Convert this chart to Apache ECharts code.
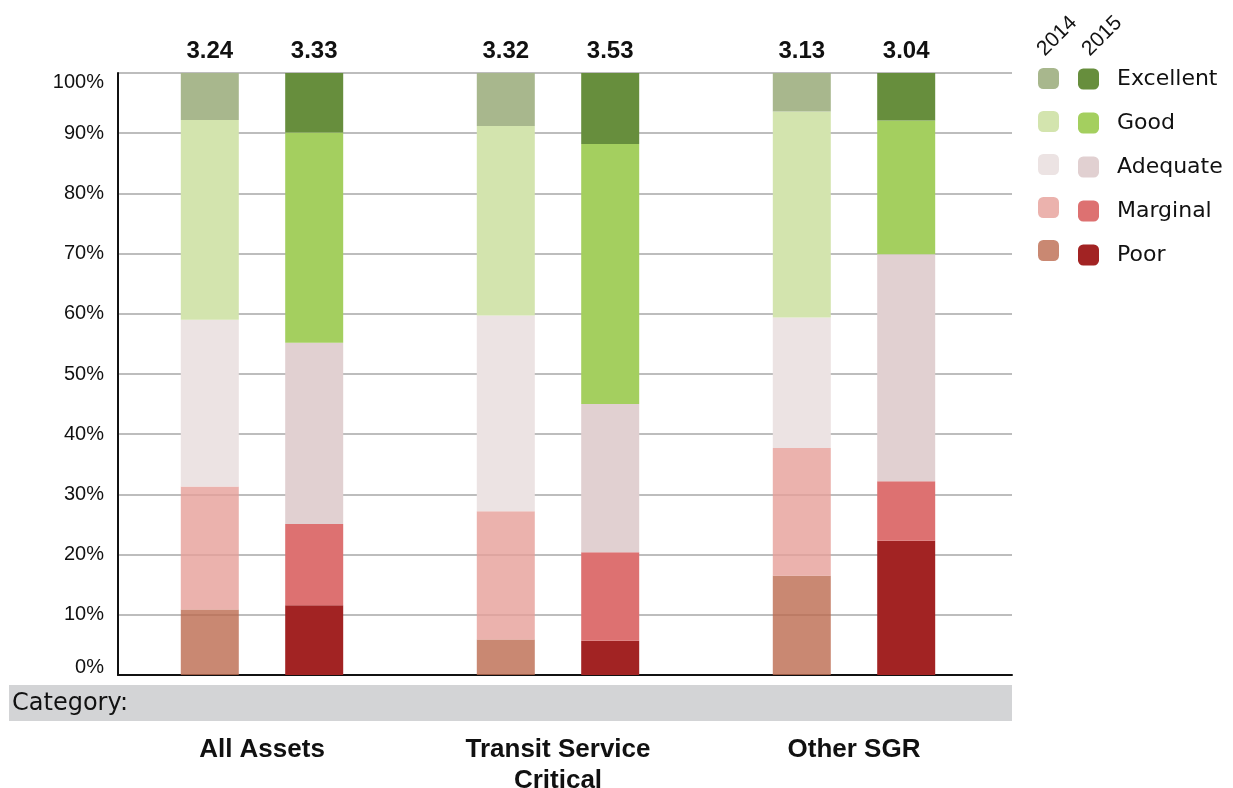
<!DOCTYPE html>
<html>
<head>
<meta charset="utf-8">
<title>Asset condition by category, 2014 vs 2015</title>
<script src="https://cdn.jsdelivr.net/npm/echarts@6/dist/echarts.min.js"></script>
<style>
  html, body { margin: 0; padding: 0; background: #ffffff; }
  #chart { width: 1233px; height: 788px; }
</style>
</head>
<body>
<div id="chart"></div>
<script>
// Asset categories (x axis)
const categories = ['All Assets', 'Transit Service\nCritical', 'Other SGR'];

// Condition ratings, bottom to top of each stack
const ratings = ['Poor', 'Marginal', 'Adequate', 'Good', 'Excellent'];

// Share of assets (%) per rating, one value per category
const poor2014      = [10.9, 5.9, 16.5];
const marginal2014  = [20.4, 21.3, 21.2];
const adequate2014  = [27.7, 32.5, 21.7];
const good2014      = [33.2, 31.5, 34.2];
const excellent2014 = [7.8, 8.8, 6.4];

const poor2015      = [11.6, 5.7, 22.3];
const marginal2015  = [13.5, 14.7, 9.9];
const adequate2015  = [30.1, 24.6, 37.7];
const good2015      = [34.9, 43.2, 22.2];
const excellent2015 = [9.9, 11.8, 7.9];

// Average condition score shown above each bar
const scores2014 = ['3.24', '3.32', '3.13'];
const scores2015 = ['3.33', '3.53', '3.04'];

// Y axis tick values (percent)
const yTicks = [0, 10, 20, 30, 40, 50, 60, 70, 80, 90, 100];

const years = ['2014', '2015'];

const values = {
  '2014': [poor2014, marginal2014, adequate2014, good2014, excellent2014],
  '2015': [poor2015, marginal2015, adequate2015, good2015, excellent2015]
};
const scores = { '2014': scores2014, '2015': scores2015 };

const colors = {
  '2014': ['#c98872', '#ebb2ad', '#ece3e3', '#d3e4ae', '#a8b78d'],
  '2015': ['#a22323', '#dd7171', '#e1d0d1', '#a4cf5f', '#678e3d']
};
// lower 2014 segments are slightly translucent so grid lines show through
const opacity2014 = [0.8, 0.8, 1, 1, 1];

function solidFor(hex, alpha) {
  if (alpha >= 1) return hex;
  const n = parseInt(hex.slice(1), 16);
  const ch = [(n >> 16) & 255, (n >> 8) & 255, n & 255]
    .map(c => Math.max(0, Math.min(255, Math.round((c - (1 - alpha) * 255) / alpha))));
  return 'rgb(' + ch.join(',') + ')';
}

const LABEL_FONT = '"Liberation Sans", Arial, sans-serif';
const WIDE_FONT = '"DejaVu Sans", "Liberation Sans", sans-serif';

const series = [];
years.forEach(year => {
  ratings.forEach((rating, i) => {
    const isTop = i === ratings.length - 1;
    const alpha = year === '2014' ? opacity2014[i] : 1;
    series.push({
      name: rating + ' ' + year,
      type: 'bar',
      stack: 'y' + year,
      xAxisIndex: 1,
      yAxisIndex: 1,
      barWidth: 58,
      barGap: '80%',
      data: values[year][i],
      itemStyle: { color: solidFor(colors[year][i], alpha), opacity: alpha },
      emphasis: { disabled: true },
      label: isTop ? {
        show: true,
        position: 'top',
        distance: 10,
        formatter: p => scores[year][p.dataIndex],
        fontFamily: LABEL_FONT,
        fontSize: 24,
        fontWeight: 'bold',
        color: '#111'
      } : { show: false }
    });
  });
});

const chart = echarts.init(document.getElementById('chart'), null, { renderer: 'canvas' });

chart.setOption({
  animation: false,
  backgroundColor: '#ffffff',
  grid: [
    // frame: y axis, grid lines, baseline
    { left: 118, right: 221, top: 73, bottom: 113, outerBoundsMode: 'none', containLabel: false },
    // bars and category labels
    { left: 114, right: 231, top: 73, bottom: 113, outerBoundsMode: 'none', containLabel: false }
  ],
  xAxis: [
    {
      gridIndex: 0, type: 'value', min: 0, max: 1,
      axisLine: { show: true, lineStyle: { color: '#111', width: 2 } },
      axisTick: { show: false }, axisLabel: { show: false }, splitLine: { show: false }
    },
    {
      gridIndex: 1, type: 'category', data: categories,
      axisLine: { show: false }, axisTick: { show: false }, splitLine: { show: false },
      axisLabel: {
        margin: 59,
        interval: 0,
        fontFamily: LABEL_FONT,
        fontSize: 26,
        fontWeight: 'bold',
        lineHeight: 31,
        color: '#111'
      }
    }
  ],
  yAxis: [
    {
      gridIndex: 0, type: 'value', min: 0, max: 100, interval: 10,
      axisLine: { show: true, lineStyle: { color: '#111', width: 2 } },
      axisTick: { show: false },
      splitLine: { show: true, lineStyle: { color: '#bdbdbd', width: 2 } },
      axisLabel: {
        margin: 14,
        fontFamily: LABEL_FONT,
        fontSize: 20,
        color: '#111',
        customValues: yTicks,
        formatter: v => v === 100 ? '{top|100%}' : (v === 0 ? '{bot|0%}' : v + '%'),
        rich: {
          top: { fontFamily: LABEL_FONT, fontSize: 20, color: '#111', padding: [19, 0, 0, 0] },
          bot: { fontFamily: LABEL_FONT, fontSize: 20, color: '#111', padding: [0, 0, 16, 0] }
        }
      }
    },
    {
      gridIndex: 1, type: 'value', min: 0, max: 100, interval: 10, show: false,
      splitLine: { show: false }
    }
  ],
  legend: [
    {
      data: ratings.slice().reverse().map(r => r + ' 2014'),
      orient: 'vertical', left: 1033, top: 63,
      icon: 'roundRect', itemWidth: 21, itemHeight: 21, itemGap: 22,
      selectedMode: false,
      formatter: () => '',
      textStyle: { fontSize: 1, lineHeight: 21 }
    },
    {
      data: ratings.slice().reverse().map(r => r + ' 2015'),
      orient: 'vertical', left: 1073, top: 63,
      icon: 'roundRect', itemWidth: 21, itemHeight: 21, itemGap: 22,
      selectedMode: false,
      formatter: name => name.replace(/ \d{4}$/, ''),
      textStyle: {
        fontFamily: WIDE_FONT, fontSize: 22, lineHeight: 21, color: '#111',
        padding: [0, 0, 0, 13]
      }
    }
  ],
  graphic: [
    // year headings over the two legend columns
    {
      type: 'text', x: 1048, y: 60, rotation: Math.PI / 4,
      style: { text: years[0], fontFamily: LABEL_FONT, fontSize: 21, fill: '#111',
               align: 'left', verticalAlign: 'bottom' }
    },
    {
      type: 'text', x: 1093, y: 60, rotation: Math.PI / 4,
      style: { text: years[1], fontFamily: LABEL_FONT, fontSize: 21, fill: '#111',
               align: 'left', verticalAlign: 'bottom' }
    },
    // category band under the plot
    {
      type: 'rect', shape: { x: 9, y: 685, width: 1003, height: 36 },
      style: { fill: '#d3d4d6' }, silent: true
    },
    {
      type: 'text', x: 12, y: 704,
      style: { text: 'Category:', fontFamily: WIDE_FONT, fontSize: 24, fill: '#111',
               align: 'left', verticalAlign: 'middle' }
    }
  ],
  series: series
});
</script>
</body>
</html>
